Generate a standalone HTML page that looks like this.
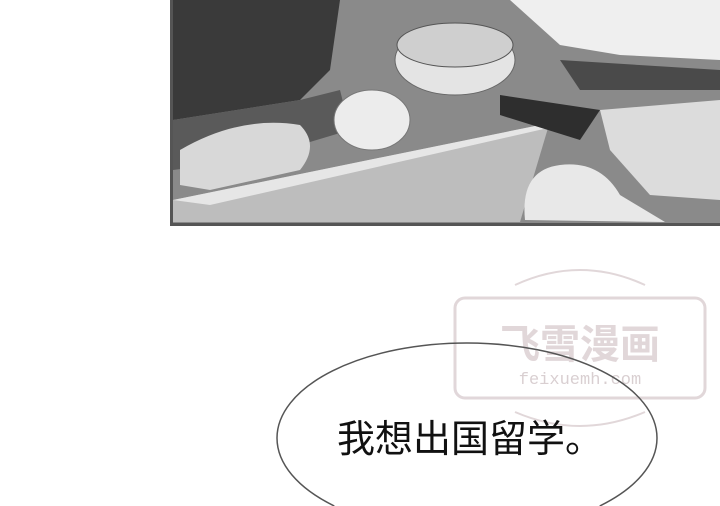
<!DOCTYPE html>
<html><head><meta charset="utf-8"><style>
html,body{margin:0;padding:0;background:#fff;width:720px;height:506px;overflow:hidden;position:relative}
svg{display:block}
</style></head><body>
<svg width="720" height="506" viewBox="0 0 720 506" overflow="hidden" style="position:absolute;left:0;top:0">
<g>
<rect x="171" y="0" width="549" height="225" fill="#8a8a8a"/>
<path d="M173 0 L340 0 L330 70 L300 100 L173 120 Z" fill="#3a3a3a"/>
<path d="M173 120 L300 100 L340 90 L350 130 L250 160 L173 170 Z" fill="#5a5a5a"/>
<path d="M180 150 Q240 115 300 125 Q320 145 300 170 L210 190 L180 185 Z" fill="#d8d8d8"/>
<path d="M173 200 L540 125 L548 128 L520 222 L173 222 Z" fill="#bdbdbd"/>
<path d="M173 200 L540 125 L548 128 L210 205 Z" fill="#e6e6e6"/>
<ellipse cx="372" cy="120" rx="38" ry="30" fill="#ececec" stroke="#777"/>
<ellipse cx="455" cy="60" rx="60" ry="35" fill="#e4e4e4" stroke="#666"/>
<ellipse cx="455" cy="45" rx="58" ry="22" fill="#cfcfcf" stroke="#555"/>
<path d="M510 0 L720 0 L720 60 L620 55 L560 45 Z" fill="#efefef"/>
<path d="M560 60 L720 70 L720 90 L580 90 Z" fill="#4a4a4a"/>
<path d="M600 110 L720 100 L720 200 L650 195 L610 150 Z" fill="#dcdcdc"/>
<path d="M620 195 Q600 160 560 165 Q520 170 525 220 L665 222 Z" fill="#e8e8e8"/>
<path d="M500 95 L600 110 L580 140 L500 115 Z" fill="#2e2e2e"/>
<path d="M171.5 0 L171.5 224.5 L720 224.5" fill="none" stroke="#555" stroke-width="3"/>
</g>
<g opacity="0.55">
<rect x="455" y="298" width="250" height="100" rx="10" fill="none" stroke="#c9b7bb" stroke-width="3"/>
<text x="580" y="358" text-anchor="middle" font-family="'Noto Sans CJK SC',sans-serif" font-size="40" font-weight="bold" fill="#c9b7bb">飞雪漫画</text>
<text x="580" y="384" text-anchor="middle" font-family="'Liberation Mono',monospace" font-size="17" fill="#bba9ad">feixuemh.com</text>
<path d="M515 285 Q580 255 645 285" fill="none" stroke="#c9b7bb" stroke-width="2"/>
<path d="M515 412 Q580 440 645 412" fill="none" stroke="#c9b7bb" stroke-width="2"/>
</g>
<path d="M334.3 506 A190 95 0 0 1 277 438 A190 95 0 0 1 657 438 A190 95 0 0 1 599.7 506" fill="none" stroke="#555" stroke-width="1.5"/>
<text x="470" y="452" text-anchor="middle" font-family="'Liberation Sans','Noto Sans CJK SC',sans-serif" font-size="38" fill="#111">我想出国留学。</text>
</svg>
</body></html>
